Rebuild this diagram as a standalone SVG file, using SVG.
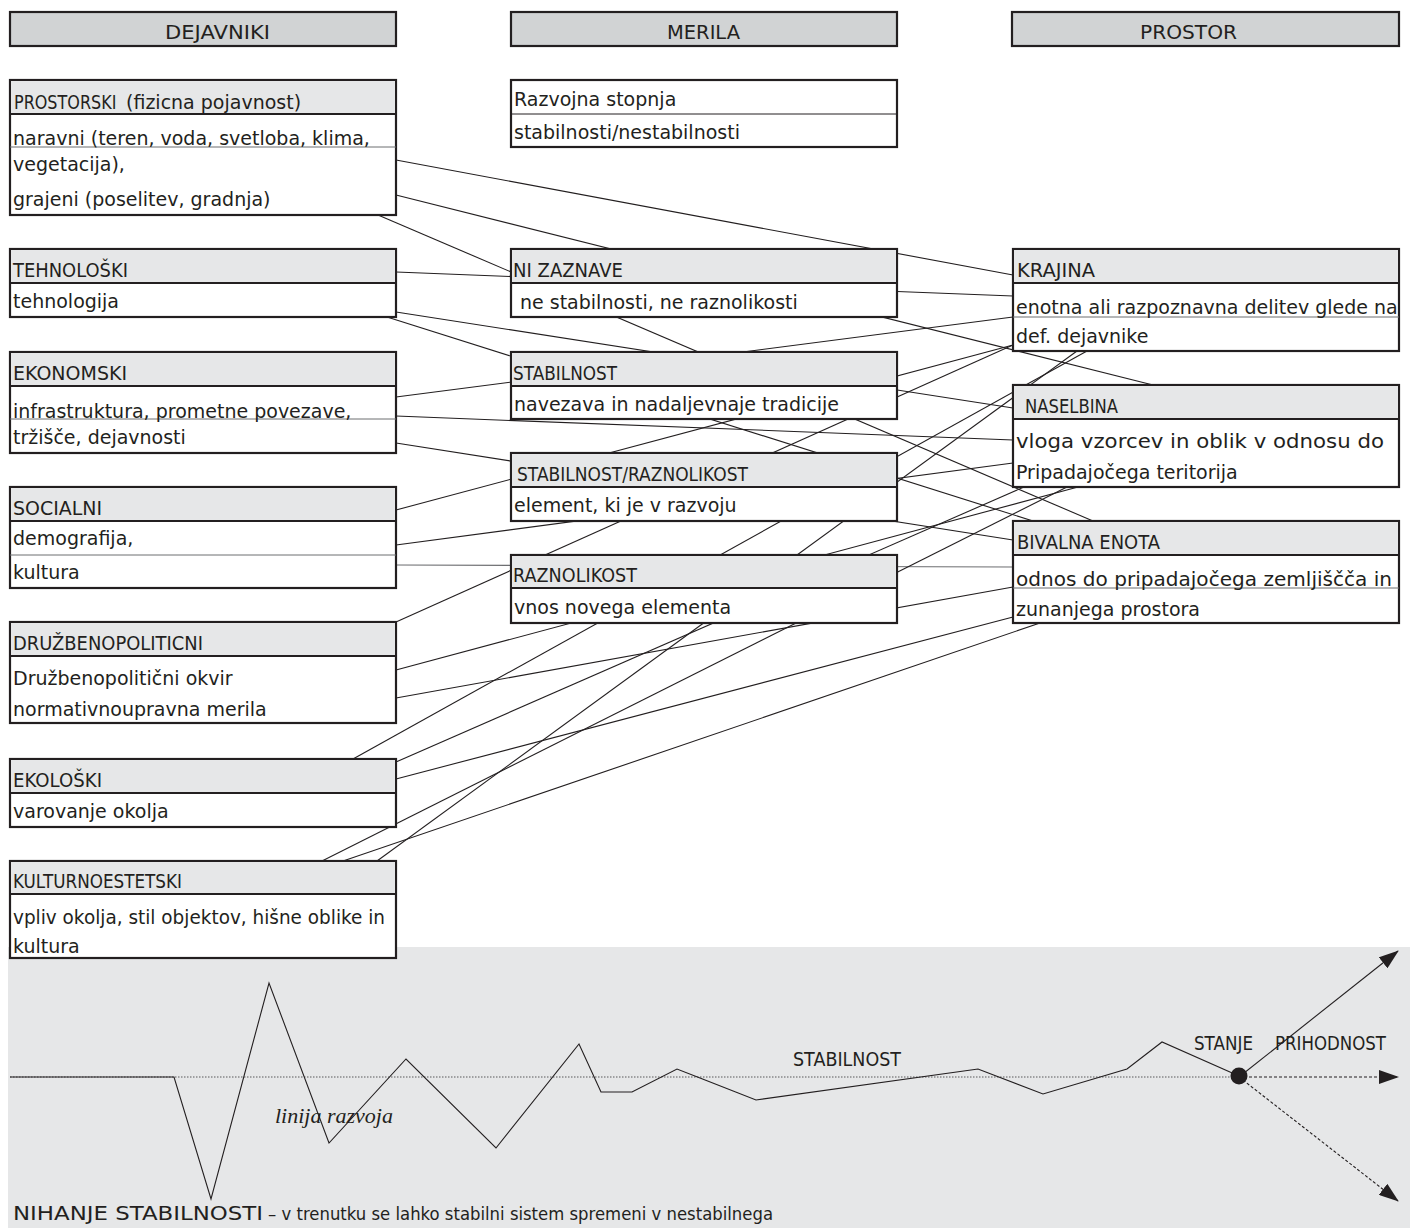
<svg xmlns="http://www.w3.org/2000/svg" width="1410" height="1228" viewBox="0 0 1410 1228">
<defs>
<style>
.top{fill:#d1d3d4;stroke:#231f20;stroke-width:2.2}
.box{fill:#fff;stroke:#231f20;stroke-width:2.2}
.bh{fill:#e6e7e8}
.sep{stroke:#231f20;stroke-width:2.2}
.thin{stroke:#6d6e71;stroke-width:1}
.t{font-family:"DejaVu Sans",sans-serif;font-size:19px;fill:#231f20}
.c{font-family:"DejaVu Sans",sans-serif;font-size:20px;fill:#231f20}
.ln{stroke:#231f20;stroke-width:1.1;fill:none}
.lg{stroke:#6d6e71;stroke-width:1.1;fill:none}
</style>
<marker id="ah" viewBox="0 0 20 14" refX="19" refY="7" markerWidth="20" markerHeight="14" markerUnits="userSpaceOnUse" orient="auto"><path d="M0,0 L20,7 L0,14 Z" fill="#231f20"/></marker>
</defs>
<rect width="1410" height="1228" fill="#fff"/>
<g id="bottom-panel">
<rect x="8" y="947" width="1402" height="281" fill="#e6e7e8"/>
</g>
<g id="connectors">
<line class="ln" x1="396" y1="160" x2="1013" y2="275"/>
<line class="ln" x1="396" y1="195" x2="1153" y2="385"/>
<line class="ln" x1="378" y1="215" x2="1093" y2="521"/>
<line class="ln" x1="396" y1="272" x2="1013" y2="296"/>
<line class="ln" x1="396" y1="312" x2="1013" y2="408"/>
<line class="ln" x1="387" y1="317" x2="1033" y2="521"/>
<line class="ln" x1="396" y1="397" x2="1013" y2="317"/>
<line class="ln" x1="396" y1="416" x2="1013" y2="440"/>
<line class="ln" x1="396" y1="443" x2="1013" y2="540"/>
<line class="ln" x1="396" y1="510" x2="1013" y2="345"/>
<line class="ln" x1="396" y1="545" x2="1013" y2="463"/>
<line class="lg" x1="396" y1="565" x2="1013" y2="567"/>
<line class="ln" x1="396" y1="622" x2="1013" y2="345"/>
<line class="ln" x1="396" y1="670" x2="1078" y2="487"/>
<line class="ln" x1="396" y1="698" x2="1013" y2="587"/>
<line class="ln" x1="353" y1="759" x2="1087" y2="351"/>
<line class="ln" x1="396" y1="762" x2="1024" y2="487"/>
<line class="ln" x1="396" y1="779" x2="1013" y2="617"/>
<line class="ln" x1="322" y1="861" x2="1067" y2="487"/>
<line class="ln" x1="343" y1="861" x2="1040" y2="623"/>
<line class="ln" x1="377" y1="861" x2="1077" y2="351"/>
</g>
<g id="h-dejavniki"><rect class="top" x="10" y="12" width="386" height="34"/><text class="c" x="165" y="39" textLength="105" lengthAdjust="spacingAndGlyphs">DEJAVNIKI</text></g>
<g id="h-merila"><rect class="top" x="511" y="12" width="386" height="34"/><text class="c" x="667" y="39" textLength="73" lengthAdjust="spacingAndGlyphs">MERILA</text></g>
<g id="h-prostor"><rect class="top" x="1012" y="12" width="387" height="34"/><text class="c" x="1140" y="39" textLength="97" lengthAdjust="spacingAndGlyphs">PROSTOR</text></g>

<g id="n-prostorski"><rect class="box" x="10" y="80" width="386" height="135"/><rect class="bh" x="11" y="81" width="384" height="33"/><line class="sep" x1="10" y1="114" x2="396" y2="114"/><line class="thin" x1="10" y1="147" x2="396" y2="147"/>
<text class="c" transform="translate(14,109) scale(0.8,1)">PROSTORSKI</text><text class="t" x="126" y="109">(fizicna pojavnost)</text>
<text class="t" x="13" y="145">naravni (teren, voda, svetloba, klima,</text><text class="t" x="13" y="171">vegetacija),</text><text class="t" x="13" y="206">grajeni (poselitev, gradnja)</text></g>

<g id="n-tehnoloski"><rect class="box" x="10" y="249" width="386" height="68"/><rect class="bh" x="11" y="250" width="384" height="33"/><line class="sep" x1="10" y1="283" x2="396" y2="283"/>
<text class="c" x="13" y="277" textLength="115" lengthAdjust="spacingAndGlyphs">TEHNOLOŠKI</text><text class="t" x="13" y="308">tehnologija</text></g>

<g id="n-ekonomski"><rect class="box" x="10" y="352" width="386" height="101"/><rect class="bh" x="11" y="353" width="384" height="33"/><line class="sep" x1="10" y1="386" x2="396" y2="386"/><line class="thin" x1="10" y1="419" x2="396" y2="419"/>
<text class="c" x="13" y="380" textLength="114" lengthAdjust="spacingAndGlyphs">EKONOMSKI</text><text class="t" x="13" y="418">infrastruktura, prometne povezave,</text><text class="t" x="13" y="444">tržišče, dejavnosti</text></g>

<g id="n-socialni"><rect class="box" x="10" y="487" width="386" height="101"/><rect class="bh" x="11" y="488" width="384" height="33"/><line class="sep" x1="10" y1="521" x2="396" y2="521"/><line class="thin" x1="10" y1="555" x2="396" y2="555"/>
<text class="c" x="13" y="515" textLength="89" lengthAdjust="spacingAndGlyphs">SOCIALNI</text><text class="t" x="13" y="545">demografija,</text><text class="t" x="13" y="579">kultura</text></g>

<g id="n-druzbenopoliticni"><rect class="box" x="10" y="622" width="386" height="101"/><rect class="bh" x="11" y="623" width="384" height="33"/><line class="sep" x1="10" y1="656" x2="396" y2="656"/>
<text class="c" x="13" y="650" textLength="190" lengthAdjust="spacingAndGlyphs">DRUŽBENOPOLITICNI</text><text class="t" x="13" y="685">Družbenopolitični okvir</text><text class="t" x="13" y="716">normativnoupravna merila</text></g>

<g id="n-ekoloski"><rect class="box" x="10" y="759" width="386" height="68"/><rect class="bh" x="11" y="760" width="384" height="33"/><line class="sep" x1="10" y1="793" x2="396" y2="793"/>
<text class="c" x="13" y="787" textLength="89" lengthAdjust="spacingAndGlyphs">EKOLOŠKI</text><text class="t" x="13" y="818">varovanje okolja</text></g>

<g id="n-kulturnoestetski"><rect class="box" x="10" y="861" width="386" height="97"/><rect class="bh" x="11" y="862" width="384" height="32"/><line class="sep" x1="10" y1="894" x2="396" y2="894"/>
<text class="c" x="13" y="888" textLength="169" lengthAdjust="spacingAndGlyphs">KULTURNOESTETSKI</text><text class="t" x="13" y="924" textLength="372" lengthAdjust="spacingAndGlyphs">vpliv okolja, stil objektov, hišne oblike in</text><text class="t" x="13" y="953">kultura</text></g>

<g id="n-razvojna"><rect class="box" x="511" y="80" width="386" height="67"/><line class="thin" x1="511" y1="114" x2="897" y2="114" style="stroke:#231f20"/>
<text class="t" x="514" y="106">Razvojna stopnja</text><text class="t" x="514" y="139">stabilnosti/nestabilnosti</text></g>

<g id="n-nizaznave"><rect class="box" x="511" y="249" width="386" height="68"/><rect class="bh" x="512" y="250" width="384" height="33"/><line class="sep" x1="511" y1="283" x2="897" y2="283"/>
<text class="c" x="513" y="277" textLength="110" lengthAdjust="spacingAndGlyphs">NI ZAZNAVE</text><text class="t" x="520" y="309">ne stabilnosti, ne raznolikosti</text></g>

<g id="n-stabilnost"><rect class="box" x="511" y="352" width="386" height="67"/><rect class="bh" x="512" y="353" width="384" height="33"/><line class="sep" x1="511" y1="386" x2="897" y2="386"/>
<text class="c" x="513" y="380" textLength="104" lengthAdjust="spacingAndGlyphs">STABILNOST</text><text class="t" x="514" y="411">navezava in nadaljevnaje tradicije</text></g>

<g id="n-stabrazn"><rect class="box" x="511" y="453" width="386" height="68"/><rect class="bh" x="512" y="454" width="384" height="33"/><line class="sep" x1="511" y1="487" x2="897" y2="487"/>
<text class="c" x="517" y="481" textLength="231" lengthAdjust="spacingAndGlyphs">STABILNOST/RAZNOLIKOST</text><text class="t" x="514" y="512">element, ki je v razvoju</text></g>

<g id="n-raznolikost"><rect class="box" x="511" y="555" width="386" height="68"/><rect class="bh" x="512" y="556" width="384" height="32"/><line class="sep" x1="511" y1="588" x2="897" y2="588"/>
<text class="c" x="513" y="582" textLength="124" lengthAdjust="spacingAndGlyphs">RAZNOLIKOST</text><text class="t" x="514" y="614">vnos novega elementa</text></g>

<g id="n-krajina"><rect class="box" x="1013" y="249" width="386" height="102"/><rect class="bh" x="1014" y="250" width="384" height="33"/><line class="sep" x1="1013" y1="283" x2="1399" y2="283"/><line class="thin" x1="1013" y1="317" x2="1399" y2="317"/>
<text class="c" x="1017" y="277" textLength="78" lengthAdjust="spacingAndGlyphs">KRAJINA</text><text class="t" x="1016" y="314">enotna ali razpoznavna delitev glede na</text><text class="t" x="1016" y="343">def. dejavnike</text></g>

<g id="n-naselbina"><rect class="box" x="1013" y="385" width="386" height="102"/><rect class="bh" x="1014" y="386" width="384" height="33"/><line class="sep" x1="1013" y1="419" x2="1399" y2="419"/>
<text class="c" x="1025" y="413" textLength="93" lengthAdjust="spacingAndGlyphs">NASELBINA</text><text class="t" x="1016" y="448" textLength="368" lengthAdjust="spacingAndGlyphs">vloga vzorcev in oblik v odnosu do</text><text class="t" x="1016" y="479">Pripadajočega teritorija</text></g>

<g id="n-bivalna"><rect class="box" x="1013" y="521" width="386" height="102"/><rect class="bh" x="1014" y="522" width="384" height="33"/><line class="sep" x1="1013" y1="555" x2="1399" y2="555"/><line class="thin" x1="1013" y1="588" x2="1399" y2="588"/>
<text class="c" x="1017" y="549" textLength="143" lengthAdjust="spacingAndGlyphs">BIVALNA ENOTA</text><text class="t" x="1016" y="586" textLength="376" lengthAdjust="spacingAndGlyphs">odnos do pripadajočega zemljiščča in</text><text class="t" x="1016" y="616">zunanjega prostora</text></g>

<g id="chart">
<line x1="10" y1="1077" x2="1239" y2="1077" stroke="#58595b" stroke-width="1" stroke-dasharray="1.5 1.5"/>
<line x1="1239" y1="1077" x2="1398" y2="1077" stroke="#231f20" stroke-width="1.1" stroke-dasharray="3 2" marker-end="url(#ah)"/>
<line x1="1239" y1="1077" x2="1398" y2="1201" stroke="#231f20" stroke-width="1.1" stroke-dasharray="3 2" marker-end="url(#ah)"/>
<line x1="1239" y1="1077" x2="1398" y2="951" stroke="#231f20" stroke-width="1.1" marker-end="url(#ah)"/>
<polyline class="ln" points="10,1077 174,1077 211,1199 269,983 329,1143 406,1059 496,1148 579,1044 601,1092 632,1092 677,1069 700,1078 756,1100 978,1069 1043,1094 1127,1069 1162,1042 1239,1076"/>
<ellipse cx="1239" cy="1076" rx="8.5" ry="8.5" fill="#231f20"/>
<text class="c" x="793" y="1066" textLength="108" lengthAdjust="spacingAndGlyphs">STABILNOST</text>
<text class="c" x="1194" y="1050" textLength="59" lengthAdjust="spacingAndGlyphs">STANJE</text>
<text class="c" x="1275" y="1050" textLength="111" lengthAdjust="spacingAndGlyphs">PRIHODNOST</text>
<text x="275" y="1123" font-family="Liberation Serif,serif" font-style="italic" font-size="22" fill="#231f20">linija razvoja</text>
<text class="c" x="13" y="1220" textLength="250" lengthAdjust="spacingAndGlyphs">NIHANJE STABILNOSTI</text>
<text class="t" x="268" y="1220" style="font-size:17px" textLength="505" lengthAdjust="spacingAndGlyphs">– v trenutku se lahko stabilni sistem spremeni v nestabilnega</text>
</g>
</svg>
